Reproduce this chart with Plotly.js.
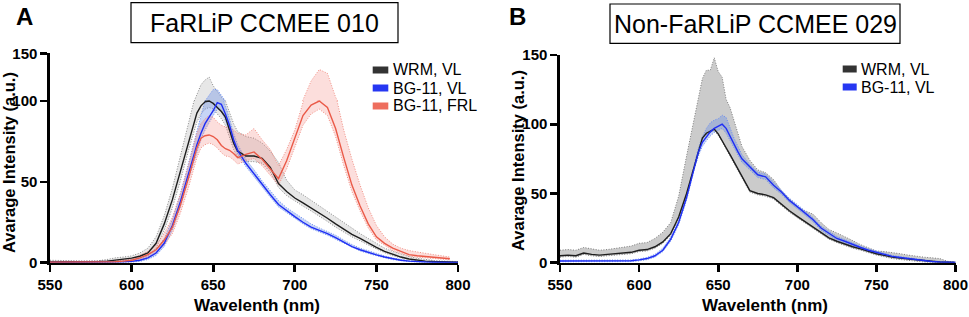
<!DOCTYPE html>
<html>
<head>
<meta charset="utf-8">
<script src="https://cdn.plot.ly/plotly-3.0.1.min.js"></script>
<style>html,body{margin:0;padding:0;background:#fff;}#chart{width:969px;height:317px;}</style>
</head>
<body>
<div id="chart"></div>
<script>
// ---------- DATA ----------
const wavelength = [550,555,560,565,570,575,580,585,590,595,600,605,610,615,620,625,630,635,637.5,640,642.5,645,647.5,650,652.5,655,657.5,660,662.5,665,670,675,680,685,690,695,700,705,710,715,720,725,730,735,740,745,750,755,760,765,770,775,780,785,790,795,800];

const xTickVals = [550,600,650,700,750,800];
const yTickVals = [0,50,100,150];
const titleA = "FaRLiP CCMEE 010";
const titleB = "Non-FaRLiP CCMEE 029";
const seriesNamesA = ["WRM, VL","BG-11, VL","BG-11, FRL"];
const seriesNamesB = ["WRM, VL","BG-11, VL"];

// Panel A : FaRLiP CCMEE 010
const wrmA_mean = [0.5,0.5,0.5,0.5,0.6,0.6,0.8,1,1.5,2,2.8,4,6,12,24,39,57,76,85,92.5,97,99.5,100,98.5,96,93.5,90,82,74,69,66,66,64.5,59,49,44,40,37,34,31,27.5,24,20.5,17.5,15,12,9.5,7,5,3.5,2.3,1.5,1,0.7,0.5,0.4,0.3];
const wrmA_hi   = [1.5,1.5,1.3,1.2,1,1,1.3,2,3,3.5,4.2,6,9,16,29,46,66,86,97,108,117,122,125,116,110,104,100,93,86,81,78,77,74,69,62,51,45,42,38.5,35.5,31.5,28,24.5,21,18,15,12,9,7,5.2,3.8,2.7,1.9,1.4,1,0.8,0.7];
const wrmA_lo   = [0,0,0,0,0,0,0.3,0.5,0.8,1.2,1.8,2.8,4.5,9,20,34,51,70,79,87,92,95,96,95,92,89,85,77,70,65,62.5,62.5,61.5,56,46.5,41.5,38,35,32,29,25.5,22,18.8,16,13.5,10.8,8.5,6.2,4.3,3,1.9,1.2,0.8,0.5,0.3,0.2,0.2];

const blueA_mean = [0.2,0.2,0.2,0.2,0.2,0.2,0.2,0.3,0.3,0.5,0.8,1.5,3,6,12,23,38,56,64,73,80,86,90,94,99,98,92,85,76,69.5,61.5,55,48,42,36,32,28.5,25,22,20,18,15.5,12.8,10,8,6.3,4.8,3.5,2.3,1.5,1,0.6,0.4,0.3,0.2,0.2,0.2];
const blueA_hi   = [0.8,0.8,0.8,0.8,0.8,0.8,0.8,0.9,1,1.3,1.8,2.8,4.5,8,15,27,43,62,72,82,91,100,106,112,112,105,97,89,80,73,64,57.5,50.5,44.5,38.5,34,30.5,27,24,21.5,19.5,17,14,11.2,9,7.3,5.6,4.2,2.9,2,1.4,1,0.7,0.5,0.4,0.3,0.3];
const blueA_lo   = [0,0,0,0,0,0,0,0,0,0.1,0.3,0.8,2,4.5,10,20,35,52,60,69,76,82,87,91,95,94,88,82,73,67,59.5,53,46.5,40.5,34.5,30.8,27.5,24,21,19,17,14.5,12,9.3,7.3,5.7,4.2,3,1.9,1.2,0.7,0.4,0.2,0.1,0.1,0.1,0.1];

const redA_mean = [0.3,0.3,0.3,0.3,0.3,0.3,0.3,0.4,0.6,1,1.5,3,5,8,14,22,36,53,62,71,77,78.5,79,78,76,72.5,70.5,69.5,67.5,65,67,68.5,64,58,52,63,77,91,97.5,100,96,83,65,48,35,24,16,12,9,7,5,4.3,3.9,3.4,3,2.4,null];
const redA_hi   = [0.8,0.8,0.8,0.8,0.8,0.8,0.8,1,1.3,1.8,2.5,4.5,7,11,18,28,43,61,71,80,86,89,91,90,87,85,84,83.5,82,80,79,83,76,70,60,70,82,101,121,133,129,104,82,64,48,34,23,16,11.5,9,7.5,6.5,5.8,5,4.3,3.5,null];
const redA_lo   = [0,0,0,0,0,0,0,0,0.2,0.5,0.8,2,3.5,6,11,18,31,47,56,65,71,73,74,73,71,68,66,65.5,63.5,61,63,64.5,60,54,48,58,72,85,92,95,91,78,60,44,32,21.5,14,10.5,7.5,5.8,4,3.4,3,2.6,2.2,1.8,null];

// Panel B : Non-FaRLiP CCMEE 029
const wrmB_mean = [5,5.5,5,7,6,5.5,6,6.5,7,7.5,9,9.5,11.5,15,21,33,50,70,80,90,93.5,95,96.5,93,88.5,83,78,73,67,62,52,50,49,47,42,37.5,33.5,29.5,25.5,21.5,18,15.5,13.3,11.5,10,8,6.5,5.3,4,3.3,2.6,2,1.4,1,0.5,0.3,0.2];
const wrmB_hi   = [9,9.5,9,11,10,9,9.5,10.5,11,12,14,14.5,17.5,22,29,48,77,105,120,133,139,139,148,138,134,118,112,102,92,84,74,67,65,60,52,46,40.5,37.5,35,29,24,21.5,19,16,13,10.5,8.5,8,7.5,6.5,5.5,4.5,4,3.5,3,1,0.5];
const wrmB_lo   = [4,4.5,4,6,5,4.5,5,5.5,6,6.5,8,8.5,10.5,14,20,32,49,69,79,89,92.5,94,95.5,92,87.5,82,77,72,66,61,51,49,48,46,41,36.5,32.5,28.5,24.5,20.5,17,14.5,12.3,10.5,9,7,5.5,4.3,3,2.3,1.6,1,0.5,0.2,0,0,0];

const blueB_mean = [1.2,1.2,1.1,1,1,1,1,1.1,1.2,1.4,2,3,5,9,17,29,47,70,80,87,91,94.5,97,98.5,100,97,91,85.5,80,75,69,63.5,62,56,51,45,40.5,35.5,31,25,21,17.5,15.5,13,11,9,7.4,5.8,4.6,3.8,3,2.2,1.4,0.9,0.5,0.3,0.2];
const blueB_hi   = [1.8,1.8,1.7,1.6,1.6,1.6,1.6,1.7,1.8,2,2.7,3.8,6,10.5,18.5,30.5,49,72,83,91,97,101,103,104,106.5,105,97,90,84,78,71,65.5,64,58,52.5,46.5,42,37,32.5,26.5,22.5,19,16.8,14.2,12,10,8.3,6.6,5.3,4.4,3.5,2.7,1.9,1.3,0.9,0.6,0.5];
const blueB_lo   = [0.6,0.6,0.5,0.4,0.4,0.4,0.4,0.5,0.6,0.8,1.3,2.2,4,8,15.5,27.5,45,68,77,84,88,91.5,94,95.5,97,93.5,88,82.5,77,72.5,67,61.5,60,54,49.5,43.5,39,34,29.5,23.5,19.5,16,14,11.8,10,8,6.5,5,3.9,3.2,2.5,1.7,1,0.5,0.2,0.1,0.1];

// ---------- STYLE ----------
const C = {
  wrmLine:'#1e1e1e', wrmEdgeA:'#8a8a8a', wrmFillA:'rgba(175,175,175,0.30)',
  wrmEdgeB:'#7d7d7d', wrmFillB:'rgba(190,190,190,0.80)',
  blueLine:'#1f2ef5', blueEdge:'#6c8ef2', blueFill:'rgba(95,135,230,0.35)',
  redLine:'#ea5a48', redEdge:'#f19085', redFill:'rgba(245,125,115,0.25)'
};
const W = 969, H = 317;
const px = x => x / W;
const py = y => 1 - y / H;
const DOT = '1px,1.6px';

function band(x, lo, hi, edge, fill, xa, ya) {
  return [
    {x:x, y:lo, xaxis:xa, yaxis:ya, type:'scatter', mode:'lines', line:{color:edge,width:1,dash:DOT}, hoverinfo:'skip', showlegend:false},
    {x:x, y:hi, xaxis:xa, yaxis:ya, type:'scatter', mode:'lines', fill:'tonexty', fillcolor:fill, line:{color:edge,width:1,dash:DOT}, hoverinfo:'skip', showlegend:false}
  ];
}
function meanLine(x, y, color, name, xa, ya) {
  return {x:x, y:y, xaxis:xa, yaxis:ya, type:'scatter', mode:'lines', name:name, line:{color:color,width:1.4}, showlegend:false};
}

const traces = [];
// Panel A drawn on two stacked y segments (0-100 and 100-150)
['y','y2'].forEach(ya => {
  traces.push(...band(wavelength, wrmA_lo, wrmA_hi, C.wrmEdgeA, C.wrmFillA, 'x', ya));
  traces.push(...band(wavelength, blueA_lo, blueA_hi, C.blueEdge, C.blueFill, 'x', ya));
  traces.push(...band(wavelength, redA_lo, redA_hi, C.redEdge, C.redFill, 'x', ya));
  traces.push(meanLine(wavelength, wrmA_mean, C.wrmLine, seriesNamesA[0], 'x', ya));
  traces.push(meanLine(wavelength, blueA_mean, C.blueLine, seriesNamesA[1], 'x', ya));
  traces.push(meanLine(wavelength, redA_mean, C.redLine, seriesNamesA[2], 'x', ya));
});
// Panel B
traces.push(...band(wavelength, wrmB_lo, wrmB_hi, C.wrmEdgeB, C.wrmFillB, 'x2', 'y3'));
traces.push(...band(wavelength, blueB_lo, blueB_hi, C.blueEdge, C.blueFill, 'x2', 'y3'));
traces.push(meanLine(wavelength, wrmB_mean, C.wrmLine, seriesNamesB[0], 'x2', 'y3'));
traces.push(meanLine(wavelength, blueB_mean, C.blueLine, seriesNamesB[1], 'x2', 'y3'));

const tickFont = {family:'Liberation Sans, Arial, sans-serif', size:15, weight:'bold', color:'#000'};
const axBase = {showgrid:false, zeroline:false, showline:true, linecolor:'#000', linewidth:2.6,
  ticks:'outside', ticklen:7, tickwidth:2.6, tickcolor:'#000', tickfont:tickFont, fixedrange:true,
  ticklabeloverflow:'allow'};

const textFont = {family:'Liberation Sans, Arial, sans-serif', color:'#000'};
const annotations = [];
const shapes = [];

function addText(t, x, y, size, opts) {
  annotations.push(Object.assign({text:t, xref:'paper', yref:'paper', x:px(x), y:py(y), showarrow:false,
    xanchor:'center', yanchor:'middle', font:Object.assign({}, textFont, {size:size})}, opts||{}));
}
// panel letters
addText('<b>A</b>', 24, 16.5, 24);
addText('<b>B</b>', 517, 16.5, 24);
// title boxes
shapes.push({type:'rect', xref:'paper', yref:'paper', x0:px(131), x1:px(398), y0:py(42.7), y1:py(2.7), line:{color:'#000',width:1.2}});
shapes.push({type:'rect', xref:'paper', yref:'paper', x0:px(610), x1:px(900), y0:py(43.3), y1:py(4), line:{color:'#000',width:1.2}});
addText(titleA, 264.5, 23, 25);
addText(titleB, 755, 24, 25);
// axis titles
addText('<b>Wavelenth (nm)</b>', 257, 305.5, 17);
addText('<b>Wavelenth (nm)</b>', 765, 305.5, 17);
addText('<b>Avarage Intensity (a.u.)</b>', 9, 163, 16.5, {textangle:-90});
addText('<b>Avarage Intensity (a.u.)</b>', 518, 161, 16.5, {textangle:-90});

// legends
const legColsA = ['#333333', '#2637f2', '#ee6e5e'];
const legRowsA = [70, 88, 106];
seriesNamesA.forEach((n,i) => {
  shapes.push({type:'rect', xref:'paper', yref:'paper', x0:px(372.7), x1:px(388.3), y0:py(legRowsA[i]+3.5), y1:py(legRowsA[i]-3.5), line:{width:0}, fillcolor:legColsA[i]});
  addText(n, 391, legRowsA[i], 16, {xanchor:'left'});
});
const legRowsB = [69, 87];
seriesNamesB.forEach((n,i) => {
  shapes.push({type:'rect', xref:'paper', yref:'paper', x0:px(842.7), x1:px(856.7), y0:py(legRowsB[i]+3.5), y1:py(legRowsB[i]-3.5), line:{width:0}, fillcolor:legColsA[i]});
  addText(n, 859, legRowsB[i], 16, {xanchor:'left'});
});

const layout = {
  width:W, height:H, margin:{l:0,r:0,t:0,b:0}, paper_bgcolor:'#fff', plot_bgcolor:'rgba(0,0,0,0)',
  showlegend:false,
  xaxis: Object.assign({}, axBase, {domain:[px(50), px(458)], range:[550,800], anchor:'y', tickmode:'array', tickvals:xTickVals}),
  yaxis: Object.assign({}, axBase, {domain:[py(262.7), py(101)], range:[0,100], anchor:'x', tickmode:'array', tickvals:yTickVals.slice(0,3)}),
  yaxis2: Object.assign({}, axBase, {domain:[py(101), py(53.3)], range:[100,150], anchor:'x', tickmode:'array', tickvals:[yTickVals[3]]}),
  xaxis2: Object.assign({}, axBase, {domain:[px(560), px(955.5)], range:[550,800], anchor:'y3', tickmode:'array', tickvals:xTickVals}),
  yaxis3: Object.assign({}, axBase, {domain:[py(262.7), py(55)], range:[0,150], anchor:'x2', tickmode:'array', tickvals:yTickVals}),
  annotations:annotations, shapes:shapes
};

Plotly.newPlot('chart', traces, layout, {staticPlot:true, displayModeBar:false});
</script>
</body>
</html>
